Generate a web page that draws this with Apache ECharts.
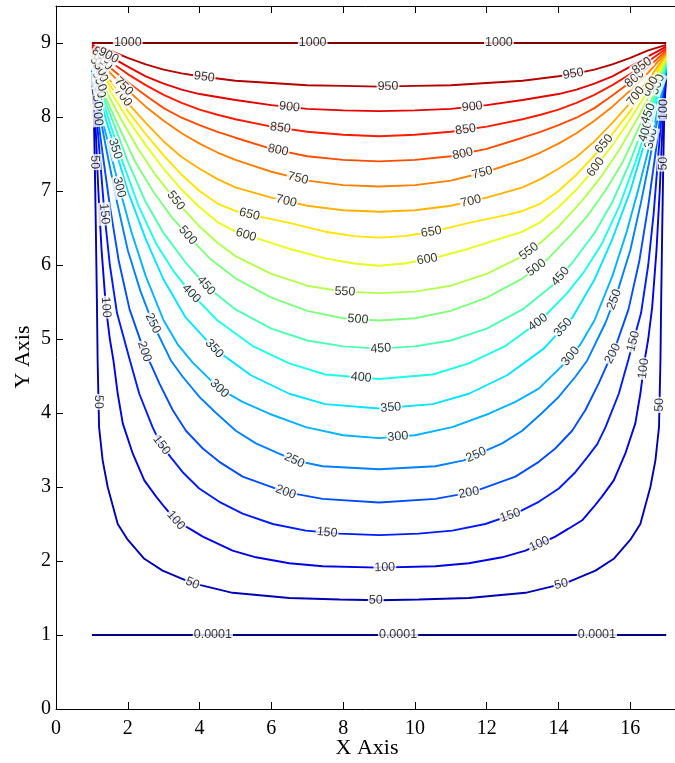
<!DOCTYPE html>
<html><head><meta charset="utf-8">
<script src="https://cdn.jsdelivr.net/npm/echarts@6/dist/echarts.min.js"></script>
<style>html,body{margin:0;padding:0;background:#fff;overflow:hidden;}#c{width:675px;height:763px;}</style>
</head><body><div id="c"></div>
<script>
// contour levels
const levels = [0.0001, 50, 100, 150, 200, 250, 300, 350, 400, 450, 500, 550, 600, 650, 700, 750, 800, 850, 900, 950, 1000];
const xTickLabels = [0, 2, 4, 6, 8, 10, 12, 14, 16];
const yTickLabels = [0, 1, 2, 3, 4, 5, 6, 7, 8, 9];

// contour polylines [x, y]
const c0 = [[1,1],[9,1],[17,1]];
const c50 = [[1,8.525],[1.03,8.3],[1.06,7.9],[1.08,7.4],[1.11,6.5],[1.14,5.5],[1.16,4.7],[1.2,3.81],[1.30,3.36],[1.44,3.0],[1.72,2.50],[1.98,2.30],[2.46,2.03],[2.97,1.87],[3.8,1.70],[4.92,1.57],[6.5,1.50],[7.9,1.48],[9,1.47],
  [10.1,1.48],[11.5,1.50],[13.08,1.57],[14.2,1.70],[15.03,1.87],[15.54,2.03],[16.02,2.30],[16.28,2.50],[16.56,3.0],[16.7,3.36],[16.8,3.81],[16.84,4.7],[16.86,5.5],[16.89,6.5],[16.92,7.4],[16.94,7.9],[16.97,8.3],[17,8.525]];
const c100 = [[1,8.55],[1.05,8.3],[1.1,7.9],[1.18,7.0],[1.27,6.2],[1.39,5.43],[1.5,5.0],[1.60,4.71],[1.72,4.26],[1.86,3.86],[2.14,3.45],[2.46,3.09],[2.79,2.87],[3.02,2.73],[3.34,2.55],[3.71,2.44],[4.09,2.33],[4.92,2.14],[5.57,2.05],[6.5,1.97],[7.43,1.93],[9,1.91],
  [10.57,1.93],[11.5,1.97],[12.43,2.05],[13.08,2.14],[13.91,2.33],[14.29,2.44],[14.66,2.55],[14.98,2.73],[15.21,2.87],[15.54,3.09],[15.86,3.45],[16.14,3.86],[16.28,4.26],[16.4,4.71],[16.5,5.0],[16.61,5.43],[16.73,6.2],[16.82,7.0],[16.9,7.9],[16.95,8.3],[17,8.55]];
const c150 = [[1,8.575],[1.08,8.3],[1.15,7.9],[1.25,7.3],[1.35,6.69],[1.5,6.0],[1.7,5.35],[2.06,4.71],[2.32,4.26],[2.69,3.81],[2.92,3.58],[3.2,3.40],[3.53,3.20],[3.99,2.98],[4.55,2.80],[5.2,2.64],[6.04,2.50],[6.96,2.41],[7.9,2.37],[9,2.35],
  [10.1,2.37],[11.04,2.41],[11.96,2.50],[12.8,2.64],[13.45,2.80],[14.01,2.98],[14.47,3.20],[14.8,3.40],[15.08,3.58],[15.31,3.81],[15.68,4.26],[15.94,4.71],[16.3,5.35],[16.5,6.0],[16.65,6.69],[16.75,7.3],[16.85,7.9],[16.92,8.3],[17,8.575]];
const c200 = [[1,8.6],[1.1,8.3],[1.16,8.02],[1.3,7.5],[1.5,6.8],[1.75,6.05],[2.05,5.4],[2.46,4.83],[2.65,4.65],[2.88,4.40],[3.25,4.04],[3.62,3.76],[4.09,3.52],[4.55,3.34],[5.2,3.14],[6.4,2.93],[7.43,2.84],[9,2.79],
  [10.57,2.84],[11.6,2.93],[12.8,3.14],[13.45,3.34],[13.91,3.52],[14.38,3.76],[14.75,4.04],[15.12,4.40],[15.35,4.65],[15.54,4.83],[15.95,5.4],[16.25,6.05],[16.5,6.8],[16.7,7.5],[16.84,8.02],[16.9,8.3],[17,8.6]];
const c250 = [[1,8.625],[1.12,8.3],[1.25,7.95],[1.45,7.45],[1.7,6.85],[2.0,6.2],[2.35,5.65],[2.69,5.22],[3.2,4.71],[3.53,4.49],[3.99,4.22],[4.46,4.0],[5.01,3.76],[5.57,3.59],[6.64,3.36],[7.43,3.28],[9,3.24],
  [10.57,3.28],[11.36,3.36],[12.43,3.59],[12.99,3.76],[13.54,4.0],[14.01,4.22],[14.47,4.49],[14.8,4.71],[15.31,5.22],[15.65,5.65],[16.0,6.2],[16.3,6.85],[16.55,7.45],[16.75,7.95],[16.88,8.3],[17,8.625]];
const c300 = [[1,8.65],[1.15,8.3],[1.3,7.95],[1.5,7.55],[1.76,7.05],[2.1,6.45],[2.5,5.85],[3.0,5.25],[3.4,4.92],[3.81,4.68],[4.55,4.33],[5.2,4.15],[5.94,3.99],[6.96,3.81],[8,3.70],[9,3.66],
  [10,3.70],[11.04,3.81],[12.06,3.99],[12.8,4.15],[13.45,4.33],[14.19,4.68],[14.6,4.92],[15.0,5.25],[15.5,5.85],[15.9,6.45],[16.24,7.05],[16.5,7.55],[16.7,7.95],[16.85,8.3],[17,8.65]];
const c350 = [[1,8.675],[1.2,8.3],[1.4,7.95],[1.65,7.57],[2.0,7.0],[2.5,6.35],[3.0,5.80],[3.6,5.30],[4.41,4.87],[5.43,4.51],[6.5,4.26],[7.5,4.12],[9,4.06],
  [10.5,4.12],[11.5,4.26],[12.57,4.51],[13.59,4.87],[14.4,5.30],[15.0,5.80],[15.5,6.35],[16.0,7.0],[16.35,7.57],[16.6,7.95],[16.8,8.3],[17,8.675]];
const c400 = [[1,8.7],[1.25,8.3],[1.5,7.92],[1.85,7.40],[2.3,6.80],[2.8,6.28],[3.3,5.90],[3.76,5.62],[4.5,5.25],[5.5,4.90],[6.5,4.67],[7.5,4.52],[9,4.46],
  [10.5,4.52],[11.5,4.67],[12.5,4.90],[13.5,5.25],[14.24,5.62],[14.7,5.90],[15.2,6.28],[15.7,6.80],[16.15,7.40],[16.5,7.92],[16.75,8.3],[17,8.7]];
const c450 = [[1,8.725],[1.3,8.3],[1.6,7.92],[2.0,7.40],[2.5,6.85],[3.0,6.43],[3.6,6.04],[4.18,5.72],[5,5.40],[6,5.14],[7,4.98],[8,4.90],[9,4.87],
  [10,4.90],[11,4.98],[12,5.14],[13,5.40],[13.82,5.72],[14.4,6.04],[15.0,6.43],[15.5,6.85],[16.0,7.40],[16.4,7.92],[16.7,8.3],[17,8.725]];
const c500 = [[1,8.75],[1.35,8.3],[1.7,7.92],[2.2,7.40],[2.7,7.0],[3.2,6.66],[3.67,6.40],[4.3,6.08],[5,5.82],[6,5.56],[7,5.38],[8,5.28],[9,5.25],
  [10,5.28],[11,5.38],[12,5.56],[13,5.82],[13.7,6.08],[14.33,6.40],[14.8,6.66],[15.3,7.0],[15.8,7.40],[16.3,7.92],[16.65,8.3],[17,8.75]];
const c550 = [[1,8.775],[1.4,8.35],[1.8,7.98],[2.3,7.56],[2.8,7.20],[3.34,6.87],[4,6.52],[4.5,6.30],[5,6.12],[6,5.88],[7,5.72],[8,5.64],[9,5.62],
  [10,5.64],[11,5.72],[12,5.88],[13,6.12],[13.5,6.30],[14,6.52],[14.66,6.87],[15.2,7.20],[15.7,7.56],[16.2,7.98],[16.6,8.35],[17,8.775]];
const c600 = [[1,8.8],[1.5,8.36],[2,7.97],[2.5,7.62],[3,7.30],[3.5,7.02],[4,6.78],[4.5,6.58],[5,6.45],[5.6,6.36],[6.5,6.22],[7.5,6.09],[8.3,6.02],[9,5.99],
  [9.7,6.02],[10.5,6.09],[11.5,6.22],[12.4,6.36],[13,6.45],[13.5,6.58],[14,6.78],[14.5,7.02],[15,7.30],[15.5,7.62],[16,7.97],[16.5,8.36],[17,8.8]];
const c650 = [[1,8.825],[1.5,8.43],[2,8.08],[2.5,7.77],[3,7.48],[3.5,7.22],[4,7.00],[4.5,6.83],[5,6.73],[5.5,6.67],[6.5,6.57],[7.5,6.45],[8.3,6.39],[9,6.37],
  [9.7,6.39],[10.5,6.45],[11.5,6.57],[12.5,6.67],[13,6.73],[13.5,6.83],[14,7.00],[14.5,7.22],[15,7.48],[15.5,7.77],[16,8.08],[16.5,8.43],[17,8.825]];
const c700 = [[1,8.85],[1.5,8.50],[2,8.19],[2.5,7.92],[3,7.67],[3.5,7.46],[4,7.30],[4.5,7.16],[5,7.05],[6,6.91],[7,6.80],[8,6.74],[9,6.72],
  [10,6.74],[11,6.80],[12,6.91],[13,7.05],[13.5,7.16],[14,7.30],[14.5,7.46],[15,7.67],[15.5,7.92],[16,8.19],[16.5,8.50],[17,8.85]];
const c750 = [[1,8.875],[1.5,8.60],[2,8.36],[2.5,8.14],[3,7.95],[3.5,7.78],[4,7.64],[4.5,7.52],[5,7.42],[6,7.26],[7,7.14],[8,7.08],[9,7.06],
  [10,7.08],[11,7.14],[12,7.26],[13,7.42],[13.5,7.52],[14,7.64],[14.5,7.78],[15,7.95],[15.5,8.14],[16,8.36],[16.5,8.60],[17,8.875]];
const c800 = [[1,8.9],[1.5,8.67],[2,8.47],[2.5,8.29],[3,8.12],[3.5,7.99],[4,7.89],[4.5,7.80],[5,7.72],[6,7.57],[7,7.47],[8,7.42],[9,7.40],
  [10,7.42],[11,7.47],[12,7.57],[13,7.72],[13.5,7.80],[14,7.89],[14.5,7.99],[15,8.12],[15.5,8.29],[16,8.47],[16.5,8.67],[17,8.9]];
const c850 = [[1,8.925],[1.5,8.75],[2,8.58],[2.5,8.43],[3,8.30],[3.5,8.19],[4,8.10],[4.5,8.03],[5,7.97],[6,7.87],[7,7.80],[8,7.76],[9,7.74],
  [10,7.76],[11,7.80],[12,7.87],[13,7.97],[13.5,8.03],[14,8.10],[14.5,8.19],[15,8.30],[15.5,8.43],[16,8.58],[16.5,8.75],[17,8.925]];
const c900 = [[1,8.95],[1.5,8.82],[2,8.68],[2.5,8.55],[3,8.45],[3.5,8.37],[4,8.31],[4.5,8.27],[5,8.23],[6,8.16],[7,8.11],[8,8.09],[9,8.08],
  [10,8.09],[11,8.11],[12,8.16],[13,8.23],[13.5,8.27],[14,8.31],[14.5,8.37],[15,8.45],[15.5,8.55],[16,8.68],[16.5,8.82],[17,8.95]];
const c950 = [[1,8.975],[1.5,8.9],[2,8.80],[2.5,8.71],[3,8.64],[3.5,8.59],[4,8.55],[4.5,8.52],[5,8.49],[6,8.46],[7,8.43],[8,8.42],[9,8.41],
  [10,8.42],[11,8.43],[12,8.46],[13,8.49],[13.5,8.52],[14,8.55],[14.5,8.59],[15,8.64],[15.5,8.71],[16,8.80],[16.5,8.9],[17,8.975]];
const c1000 = [[1,9],[9,9],[17,9]];

// approximate label spots per level (snapped to the line at draw time)
const lab0 = [[4.37,1],[9.53,1],[15.07,1]];
const lab50 = [[1.08,7.39],[1.16,4.15],[3.8,1.70],[8.91,1.47],[14.07,1.70],[16.84,4.11],[16.93,7.37]];
const lab100 = [[1.39,5.43],[3.34,2.55],[9.16,1.91],[13.48,2.22],[16.38,4.6],[16.95,8.1]];
const lab150 = [[1.35,6.69],[2.92,3.56],[7.55,2.37],[12.67,2.6],[16.0,4.98]];
const lab200 = [[1.16,8.02],[2.46,4.83],[6.4,2.93],[11.5,2.93],[15.4,4.83]];
const lab250 = [[1.09,8.25],[2.69,5.21],[6.64,3.36],[11.73,3.41],[15.46,5.55]];
const lab300 = [[1.76,7.05],[4.55,4.33],[9.53,3.66],[14.23,4.81],[16.49,7.72]];
const lab350 = [[1.65,7.57],[4.41,4.87],[9.33,4.06],[14.12,5.16]];
const lab400 = [[1.25,8.4],[3.76,5.61],[8.5,4.47],[13.45,5.21],[16.32,7.82]];
const lab450 = [[4.18,5.72],[9.05,4.87],[13.93,5.9],[16.49,8.05]];
const lab500 = [[1.3,8.5],[3.67,6.40],[8.41,5.25],[13.4,5.95],[16.7,8.45]];
const lab550 = [[3.34,6.87],[8.05,5.64],[13.09,6.24]];
const lab600 = [[1.2,8.6],[5.29,6.40],[10.36,6.03],[14.96,7.35],[16.63,8.39]];
const lab650 = [[1.15,8.68],[5.39,6.69],[10.47,6.41],[15.21,7.66]];
const lab700 = [[2.0,8.32],[6.41,6.85],[11.56,6.86],[16.13,8.29]];
const lab750 = [[1.92,8.43],[6.73,7.15],[11.89,7.22]];
const lab800 = [[1.3,8.75],[6.17,7.51],[11.34,7.48],[16.05,8.56]];
const lab850 = [[1.3,8.85],[6.24,7.82],[11.42,7.81],[16.27,8.73]];
const lab900 = [[1.42,8.79],[6.5,8.11],[11.6,8.13]];
const lab950 = [[4.13,8.54],[9.25,8.41],[14.4,8.61]];
const lab1000 = [[2.0,9],[7.15,9],[12.34,9]];

const contours = [c0,c50,c100,c150,c200,c250,c300,c350,c400,c450,c500,c550,c600,c650,c700,c750,c800,c850,c900,c950,c1000];
const labelSpots = [lab0,lab50,lab100,lab150,lab200,lab250,lab300,lab350,lab400,lab450,lab500,lab550,lab600,lab650,lab700,lab750,lab800,lab850,lab900,lab950,lab1000];

function clamp(v){return Math.max(0, Math.min(1, v));}
function jet(t){
  const r = clamp(1.5 - Math.abs(4*t - 3));
  const g = clamp(1.5 - Math.abs(4*t - 2));
  const b = clamp(1.5 - Math.abs(4*t - 1));
  return 'rgb(' + Math.round(r*255) + ',' + Math.round(g*255) + ',' + Math.round(b*255) + ')';
}

const serif = '"Liberation Serif", "Times New Roman", serif';
const chart = echarts.init(document.getElementById('c'), null, {renderer: 'canvas'});

const axisCommon = {
  axisLine: {show: true, onZero: false, lineStyle: {color: '#000', width: 1}},
  axisTick: {show: true, inside: true, length: 7, lineStyle: {color: '#000', width: 1}},
  splitLine: {show: false},
  splitArea: {show: false}
};

const lineSeries = levels.map((lv, i) => ({
  type: 'line', data: contours[i], symbol: 'none', showSymbol: false, smooth: false,
  xAxisIndex: 0, yAxisIndex: 0,
  lineStyle: {color: jet(lv / 1000), width: 1.9}, z: 2, animation: false, silent: true
}));

chart.setOption({
  animation: false,
  backgroundColor: '#fff',
  grid: {left: 56, right: -12, top: 6, bottom: 54, show: false, containLabel: false, outerBoundsMode: 'none'},
  xAxis: [
    Object.assign({type: 'value', min: 0, max: 17.58, interval: 2, position: 'bottom',
      axisLabel: {formatter: v => xTickLabels.indexOf(v) >= 0 ? String(v) : '', color: '#000', fontFamily: serif, fontSize: 20, margin: 10}}, axisCommon),
    Object.assign({type: 'value', min: 0, max: 17.58, interval: 2, position: 'top',
      axisLabel: {show: false}}, axisCommon)
  ],
  yAxis: [
    Object.assign({type: 'value', min: 0, max: 9.5, interval: 1, position: 'left',
      axisLabel: {formatter: v => yTickLabels.indexOf(v) >= 0 ? String(v) : '', color: '#000', fontFamily: serif, fontSize: 20, margin: 5}}, axisCommon)
  ],
  graphic: [
    {type: 'text', x: 367, y: 748, style: {text: 'X Axis', font: '22px ' + serif, fill: '#000', textAlign: 'center', textVerticalAlign: 'middle'}},
    {type: 'text', x: 23, y: 357, rotation: Math.PI / 2, style: {text: 'Y Axis', font: '22px ' + serif, fill: '#000', textAlign: 'center', textVerticalAlign: 'middle'}}
  ],
  series: lineSeries
});

// snap label spots onto their polyline (pixel space) and orient them along it
function snap(polyPx, p){
  let best = null;
  for (let k = 0; k < polyPx.length - 1; k++){
    const a = polyPx[k], b = polyPx[k+1];
    const dx = b[0]-a[0], dy = b[1]-a[1];
    const L2 = dx*dx + dy*dy || 1e-9;
    let t = ((p[0]-a[0])*dx + (p[1]-a[1])*dy) / L2;
    t = Math.max(0, Math.min(1, t));
    const q = [a[0]+t*dx, a[1]+t*dy];
    const d = (q[0]-p[0])*(q[0]-p[0]) + (q[1]-p[1])*(q[1]-p[1]);
    if (!best || d < best.d){
      let ang = Math.atan2(-dy, dx) * 180 / Math.PI;
      if (ang > 90) ang -= 180;
      if (ang < -90) ang += 180;
      best = {d: d, q: q, ang: ang};
    }
  }
  return best;
}

const labelData = [];
levels.forEach((lv, i) => {
  const polyPx = contours[i].map(pt => chart.convertToPixel({xAxisIndex: 0, yAxisIndex: 0}, pt));
  labelSpots[i].forEach(sp => {
    const p = chart.convertToPixel({xAxisIndex: 0, yAxisIndex: 0}, sp);
    const s = snap(polyPx, p);
    const val = chart.convertFromPixel({xAxisIndex: 0, yAxisIndex: 0}, s.q);
    labelData.push({value: val, name: String(lv), label: {rotate: Math.round(s.ang)}});
  });
});

chart.setOption({
  series: lineSeries.concat([{
    type: 'scatter', data: labelData, symbolSize: 0.01, itemStyle: {color: 'rgba(0,0,0,0)'},
    z: 5, silent: true, animation: false,
    label: {show: true, position: 'inside', formatter: p => p.name, color: '#000',
      fontFamily: '"Liberation Sans", Arial, sans-serif', fontSize: 12.5,
      backgroundColor: '#fff', padding: [0, 1, 0, 1]},
    labelLayout: {hideOverlap: false}
  }])
});
</script>
</body></html>
